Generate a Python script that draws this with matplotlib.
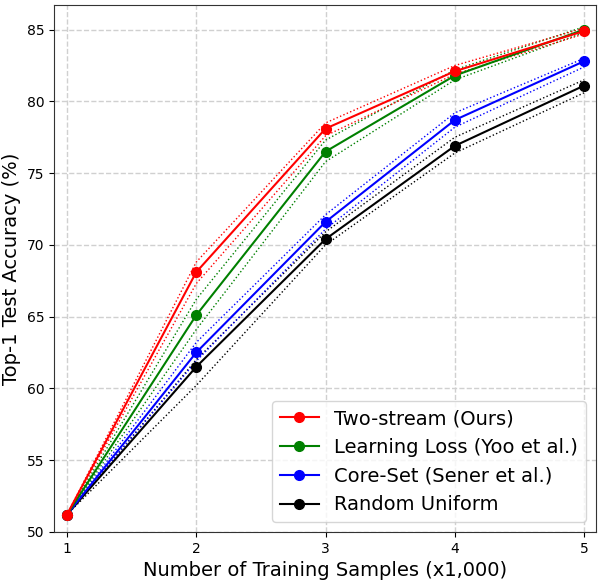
import numpy as np
import matplotlib
matplotlib.use("Agg")
import matplotlib.pyplot as plt

# ============================================================
# DATA
# ============================================================

samples = [1, 2, 3, 4, 5]

labels = [
    "Two-stream (Ours)",
    "Learning Loss (Yoo et al.)",
    "Core-Set (Sener et al.)",
    "Random Uniform",
]
colors = ["red", "green", "blue", "black"]

red_mean = [51.2, 68.1, 78.1, 82.1, 84.9]
red_hi = [51.2, 68.8, 78.5, 82.5, 85.1]
red_lo = [51.2, 67.3, 77.6, 81.9, 84.7]

green_mean = [51.2, 65.1, 76.5, 81.8, 85.0]
green_hi = [51.2, 66.2, 77.3, 82.2, 85.2]
green_lo = [51.2, 64.1, 75.8, 81.5, 84.8]

blue_mean = [51.2, 62.5, 71.6, 78.7, 82.8]
blue_hi = [51.2, 63.2, 72.1, 79.2, 83.0]
blue_lo = [51.2, 61.9, 71.1, 78.2, 82.4]

black_mean = [51.2, 61.5, 70.4, 76.9, 81.1]
black_hi = [51.2, 62.0, 70.9, 77.5, 81.5]
black_lo = [51.2, 60.2, 70.0, 76.4, 80.6]

means = [red_mean, green_mean, blue_mean, black_mean]
his = [red_hi, green_hi, blue_hi, black_hi]
los = [red_lo, green_lo, blue_lo, black_lo]

# ============================================================
# PLOT
# ============================================================

fig = plt.figure(figsize=(6, 5.8), dpi=100)
ax = fig.add_axes([0.09, 0.083, 0.903, 0.908])

handles = [None] * 4
for i in reversed(range(4)):
    c = colors[i]
    ax.plot(samples, his[i], color=c, linestyle=":", linewidth=1.0, zorder=2)
    ax.plot(samples, los[i], color=c, linestyle=":", linewidth=1.0, zorder=2)
    h, = ax.plot(samples, means[i], color=c, marker="o", markersize=7,
                 linewidth=1.5, label=labels[i], zorder=3)
    handles[i] = h

ax.set_xlim(0.9, 5.09)
ax.set_ylim(50, 86.7)
ax.set_xticks(samples)
ax.set_yticks(np.arange(50, 86, 5))
ax.tick_params(labelsize=10)

ax.grid(True, linestyle="--", color="#d0d0d0", linewidth=1.0)
ax.set_axisbelow(True)
for s in ax.spines.values():
    s.set_color("#333333")

ax.set_xlabel("Number of Training Samples (x1,000)", fontsize=14)
ax.set_ylabel("Top-1 Test Accuracy (%)", fontsize=14)

ax.legend(handles=handles, loc="lower right", fontsize=14,
          handlelength=2.0, borderpad=0.4, labelspacing=0.5)

fig.savefig("out.png", dpi=100)
